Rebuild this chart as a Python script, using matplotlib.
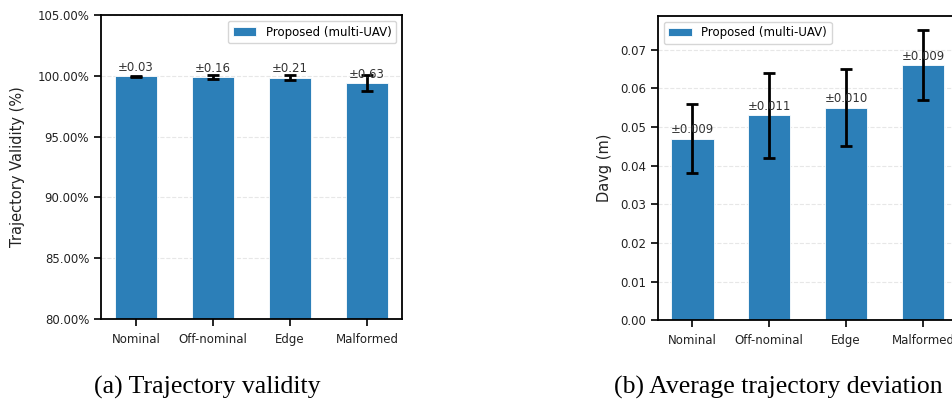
import numpy as np
import matplotlib.pyplot as plt
from matplotlib.ticker import FuncFormatter

scenarios = ['Nominal', 'Off-nominal', 'Edge', 'Malformed']
validity = [99.97, 99.89, 99.86, 99.40]
validity_err = [0.03, 0.16, 0.21, 0.63]
davg = [0.047, 0.053, 0.055, 0.066]
davg_err = [0.009, 0.011, 0.010, 0.009]
validity_lbl = ['±0.03', '±0.16', '±0.21', '±0.63']
davg_lbl = ['±0.009', '±0.011', '±0.010', '±0.009']

blue = '#2c7fb8'
fs = 8.5

fig = plt.figure(figsize=(9.53, 4.03), dpi=100)
ax1 = fig.add_axes([101/953, 1-319/403, 301/953, 304/403])
ax2 = fig.add_axes([657.7/953, 1-320.3/403, 300/953, 304.6/403])

x = np.arange(len(scenarios))
w = 0.55

def draw(ax, vals, errs, lbls, off):
    ax.bar(x, vals, w, color=blue, edgecolor='white', linewidth=0.6,
           label='Proposed (multi-UAV)', zorder=2)
    ax.errorbar(x, vals, yerr=errs, fmt='none', ecolor='black',
                elinewidth=2, capsize=4, capthick=2, zorder=3)
    for xi, v, t in zip(x, vals, lbls):
        ax.annotate(t, (xi, v), xytext=(0, off), textcoords='offset points',
                    ha='center', va='bottom', fontsize=fs, color='#333333')
    ax.set_xticks(x)
    ax.set_xticklabels(scenarios, fontsize=fs)
    ax.tick_params(axis='both', labelsize=fs, colors='black', labelcolor='#222222',
                   length=5, width=1.2)
    ax.tick_params(axis='x', pad=5)
    ax.grid(axis='y', linestyle='--', alpha=0.3, zorder=0)
    ax.set_axisbelow(True)
    for s in ax.spines.values():
        s.set_linewidth(1.3)

draw(ax1, validity, validity_err, validity_lbl, 1.5)
ax1.set_ylim(80, 105)
ax1.set_yticks([80, 85, 90, 95, 100, 105])
ax1.yaxis.set_major_formatter(FuncFormatter(lambda v, p: f'{v:.2f}%'))
ax1.set_ylabel('Trajectory Validity (%)', fontsize=10.5, color='#222222', labelpad=9)
ax1.legend(loc='upper right', fontsize=fs, frameon=True, edgecolor='#cccccc')

draw(ax2, davg, davg_err, davg_lbl, 1.5)
ax2.set_ylim(0, max(np.array(davg) + np.array(davg_err)) * 1.05)
ax2.set_yticks(np.arange(0, 0.071, 0.01))
ax2.yaxis.set_major_formatter(FuncFormatter(lambda v, p: f'{v:.2f}'))
ax2.set_ylabel('Davg (m)', fontsize=10.5, color='#222222', labelpad=6)
ax2.legend(loc='upper left', fontsize=fs, frameon=True, edgecolor='#cccccc')

fig.text(207/953, 1-387/403, '(a) Trajectory validity', ha='center', va='center',
         family='Liberation Serif', fontsize=18.5, color='black')
fig.text(778/953, 1-387/403, '(b) Average trajectory deviation', ha='center', va='center',
         family='Liberation Serif', fontsize=18.5, color='black')

fig.savefig('out.png', dpi=100)
